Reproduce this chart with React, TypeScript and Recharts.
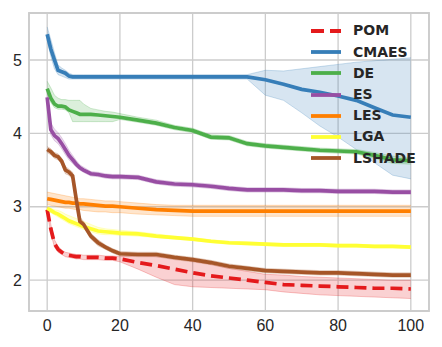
import React from "react";
import {
  ComposedChart,
  Area,
  Line,
  XAxis,
  YAxis,
  CartesianGrid,
  Legend,
  ReferenceArea,
} from "recharts";

// iteration index
const xs = [0, 1, 2, 3, 4, 5, 6, 7, 8, 9, 10, 12, 14, 16, 18, 20, 25, 30, 35, 40, 45, 50, 55, 60, 65, 70, 75, 80, 85, 90, 95, 100];

const pomMean = [2.96, 2.7, 2.5, 2.42, 2.38, 2.35, 2.34, 2.33, 2.32, 2.32, 2.31, 2.31, 2.31, 2.3, 2.3, 2.29, 2.24, 2.2, 2.15, 2.1, 2.06, 2.03, 2.0, 1.97, 1.94, 1.93, 1.92, 1.91, 1.9, 1.89, 1.89, 1.88];
const pomHi = [3.0, 2.76, 2.55, 2.46, 2.41, 2.38, 2.37, 2.36, 2.35, 2.35, 2.34, 2.34, 2.34, 2.33, 2.33, 2.32, 2.34, 2.32, 2.3, 2.26, 2.22, 2.16, 2.12, 2.08, 2.07, 2.05, 2.04, 2.03, 2.02, 2.01, 2.0, 2.0];
const pomLo = [2.92, 2.64, 2.45, 2.38, 2.35, 2.32, 2.31, 2.3, 2.29, 2.29, 2.28, 2.28, 2.28, 2.27, 2.27, 2.25, 2.15, 2.04, 1.94, 1.91, 1.9, 1.89, 1.88, 1.87, 1.84, 1.82, 1.8, 1.79, 1.78, 1.77, 1.76, 1.75];

const cmaesMean = [5.35, 5.15, 5.0, 4.86, 4.84, 4.82, 4.78, 4.77, 4.77, 4.77, 4.77, 4.77, 4.77, 4.77, 4.77, 4.77, 4.77, 4.77, 4.77, 4.77, 4.77, 4.77, 4.77, 4.73, 4.67, 4.6, 4.56, 4.51, 4.45, 4.35, 4.25, 4.22];
const cmaesHi = [5.45, 5.28, 5.1, 4.93, 4.89, 4.86, 4.82, 4.8, 4.8, 4.8, 4.8, 4.8, 4.8, 4.8, 4.8, 4.8, 4.8, 4.8, 4.8, 4.8, 4.8, 4.8, 4.8, 4.86, 4.85, 4.88, 4.91, 4.94, 4.97, 4.99, 5.01, 5.03];
const cmaesLo = [5.27, 5.05, 4.88, 4.8, 4.78, 4.76, 4.74, 4.74, 4.74, 4.74, 4.74, 4.74, 4.74, 4.74, 4.74, 4.74, 4.74, 4.74, 4.74, 4.74, 4.74, 4.74, 4.74, 4.52, 4.45, 4.28, 4.1, 3.95, 3.78, 3.6, 3.43, 3.38];

const deMean = [4.61, 4.48, 4.4, 4.37, 4.37, 4.36, 4.32, 4.3, 4.28, 4.26, 4.26, 4.26, 4.25, 4.24, 4.23, 4.22, 4.18, 4.14, 4.08, 4.04, 3.95, 3.94, 3.86, 3.83, 3.81, 3.79, 3.77, 3.76, 3.75, 3.7, 3.64, 3.63];
const deHi = [4.71, 4.62, 4.52, 4.48, 4.46, 4.46, 4.45, 4.45, 4.45, 4.45, 4.4, 4.34, 4.32, 4.3, 4.29, 4.27, 4.22, 4.18, 4.11, 4.07, 3.98, 3.97, 3.89, 3.86, 3.84, 3.82, 3.8, 3.79, 3.78, 3.74, 3.69, 3.67];
const deLo = [4.55, 4.42, 4.35, 4.33, 4.33, 4.32, 4.28, 4.16, 4.16, 4.16, 4.16, 4.16, 4.16, 4.16, 4.16, 4.19, 4.15, 4.11, 4.05, 4.01, 3.92, 3.91, 3.83, 3.8, 3.78, 3.76, 3.74, 3.73, 3.72, 3.66, 3.59, 3.58];

const esMean = [4.49, 4.05, 3.97, 3.93, 3.86, 3.78, 3.7, 3.64, 3.58, 3.53, 3.5, 3.45, 3.44, 3.42, 3.41, 3.41, 3.4, 3.34, 3.31, 3.3, 3.28, 3.25, 3.23, 3.23, 3.23, 3.22, 3.22, 3.21, 3.21, 3.21, 3.2, 3.2];
const esHi = [4.56, 4.14, 4.06, 4.01, 3.94, 3.86, 3.77, 3.7, 3.63, 3.57, 3.54, 3.48, 3.47, 3.45, 3.44, 3.44, 3.43, 3.37, 3.34, 3.33, 3.31, 3.28, 3.26, 3.26, 3.26, 3.25, 3.25, 3.24, 3.24, 3.24, 3.23, 3.23];
const esLo = [4.43, 3.98, 3.9, 3.86, 3.79, 3.71, 3.64, 3.59, 3.54, 3.5, 3.47, 3.42, 3.41, 3.39, 3.38, 3.38, 3.37, 3.31, 3.28, 3.27, 3.25, 3.22, 3.2, 3.2, 3.2, 3.19, 3.19, 3.18, 3.18, 3.18, 3.17, 3.17];

const lesMean = [3.11, 3.1, 3.09, 3.08, 3.07, 3.06, 3.06, 3.05, 3.05, 3.04, 3.04, 3.03, 3.02, 3.01, 3.01, 3.0, 2.98, 2.96, 2.95, 2.94, 2.94, 2.94, 2.94, 2.94, 2.94, 2.94, 2.94, 2.94, 2.94, 2.94, 2.94, 2.94];
const lesHi = [3.2, 3.19, 3.18, 3.17, 3.16, 3.15, 3.14, 3.13, 3.12, 3.11, 3.11, 3.1, 3.09, 3.08, 3.08, 3.07, 3.05, 3.03, 3.02, 3.02, 3.02, 3.02, 3.02, 3.02, 3.02, 3.02, 3.02, 3.02, 3.02, 3.02, 3.02, 3.02];
const lesLo = [3.03, 3.02, 3.01, 3.0, 2.99, 2.98, 2.98, 2.97, 2.96, 2.96, 2.95, 2.94, 2.93, 2.93, 2.92, 2.92, 2.9, 2.89, 2.88, 2.87, 2.87, 2.87, 2.87, 2.87, 2.87, 2.87, 2.87, 2.87, 2.87, 2.87, 2.87, 2.87];

const lgaMean = [2.98, 2.95, 2.92, 2.9, 2.87, 2.84, 2.81, 2.79, 2.77, 2.75, 2.73, 2.7, 2.67, 2.66, 2.65, 2.64, 2.63, 2.6, 2.58, 2.56, 2.53, 2.51, 2.5, 2.49, 2.48, 2.48, 2.48, 2.47, 2.47, 2.46, 2.46, 2.45];
const lgaHi = [3.0, 2.98, 2.96, 2.95, 2.93, 2.9, 2.88, 2.86, 2.84, 2.82, 2.8, 2.76, 2.72, 2.7, 2.69, 2.68, 2.66, 2.63, 2.6, 2.58, 2.55, 2.53, 2.52, 2.51, 2.5, 2.5, 2.5, 2.49, 2.49, 2.48, 2.48, 2.47];
const lgaLo = [2.96, 2.92, 2.89, 2.86, 2.83, 2.8, 2.77, 2.75, 2.73, 2.71, 2.69, 2.66, 2.63, 2.62, 2.62, 2.61, 2.6, 2.58, 2.56, 2.54, 2.51, 2.49, 2.48, 2.47, 2.46, 2.46, 2.46, 2.45, 2.45, 2.44, 2.44, 2.43];

const lshadeMean = [3.78, 3.75, 3.7, 3.68, 3.62, 3.5, 3.47, 3.42, 3.1, 2.8, 2.76, 2.6, 2.51, 2.45, 2.4, 2.36, 2.35, 2.35, 2.31, 2.28, 2.24, 2.19, 2.16, 2.13, 2.12, 2.11, 2.1, 2.1, 2.09, 2.08, 2.07, 2.07];
const lshadeHi = [3.82, 3.79, 3.74, 3.72, 3.66, 3.55, 3.51, 3.47, 3.2, 2.86, 2.8, 2.64, 2.55, 2.48, 2.43, 2.39, 2.38, 2.38, 2.34, 2.31, 2.27, 2.22, 2.19, 2.16, 2.15, 2.14, 2.13, 2.13, 2.12, 2.11, 2.1, 2.1];
const lshadeLo = [3.74, 3.71, 3.66, 3.64, 3.58, 3.45, 3.43, 3.37, 3.0, 2.75, 2.72, 2.56, 2.47, 2.42, 2.37, 2.33, 2.32, 2.32, 2.28, 2.25, 2.21, 2.16, 2.13, 2.1, 2.09, 2.08, 2.07, 2.07, 2.06, 2.05, 2.04, 2.04];

const xTicks = [0, 20, 40, 60, 80, 100];
const yTicks = [2, 3, 4, 5];

const series = [
  { name: "POM", color: "#e41a1c", mean: pomMean, lo: pomLo, hi: pomHi, dash: "12 6" },
  { name: "CMAES", color: "#377eb8", mean: cmaesMean, lo: cmaesLo, hi: cmaesHi },
  { name: "DE", color: "#4daf4a", mean: deMean, lo: deLo, hi: deHi },
  { name: "ES", color: "#984ea3", mean: esMean, lo: esLo, hi: esHi },
  { name: "LES", color: "#ff7f00", mean: lesMean, lo: lesLo, hi: lesHi },
  { name: "LGA", color: "#ffff33", mean: lgaMean, lo: lgaLo, hi: lgaHi },
  { name: "LSHADE", color: "#a65628", mean: lshadeMean, lo: lshadeLo, hi: lshadeHi },
];

const rows = xs.map((x, i) => {
  const row: Record<string, any> = { x };
  series.forEach((s) => {
    row[s.name] = s.mean[i];
    row[s.name + "_band"] = [s.lo[i], s.hi[i]];
  });
  return row;
});

const FONT = '"Liberation Sans", Arial, sans-serif';
const LEGEND_FONT = '"DejaVu Sans", sans-serif';
const GRID = "#cccccc";

function LegendBox() {
  return (
    <div style={{ fontFamily: LEGEND_FONT }}>
      {series.map((s) => (
        <div
          key={s.name}
          style={{ display: "flex", alignItems: "center", height: 21.2 }}
        >
          <svg width={30} height={6} style={{ marginRight: 12 }}>
            <line
              x1={0}
              y1={3}
              x2={30}
              y2={3}
              stroke={s.color}
              strokeWidth={3.8}
              strokeDasharray={s.dash ? "13 6" : undefined}
            />
          </svg>
          <span
            style={{
              fontSize: 14,
              fontWeight: "bold",
              color: "#262626",
              lineHeight: "15px",
            }}
          >
            {s.name}
          </span>
        </div>
      ))}
    </div>
  );
}

export default function App() {
  return (
    <div style={{ position: "absolute", left: 0, top: 0, background: "#fff" }}>
      <ComposedChart
        width={442}
        height={347}
        data={rows}
        margin={{ top: 13, right: 13, bottom: 6, left: 0 }}
      >
        <CartesianGrid stroke={GRID} strokeWidth={1.3} />
        <XAxis
          dataKey="x"
          type="number"
          domain={[-5, 105]}
          ticks={xTicks}
          height={30}
          tickLine={false}
          tickSize={0}
          tickMargin={9}
          axisLine={false}
          tick={{ fill: "#262626", fontSize: 16, fontFamily: FONT }}
        />
        <YAxis
          type="number"
          domain={[1.58, 5.64]}
          ticks={yTicks}
          width={29}
          allowDataOverflow
          tickLine={false}
          tickSize={0}
          tickMargin={7}
          axisLine={false}
          tick={{ fill: "#262626", fontSize: 16, fontFamily: FONT }}
        />
        <ReferenceArea
          x1={-5}
          x2={105}
          y1={1.58}
          y2={5.64}
          fill="none"
          stroke={GRID}
          strokeWidth={1.8}
        />
        {series.map((s) => (
          <Area
            key={s.name + "_band"}
            dataKey={s.name + "_band"}
            type="linear"
            fill={s.color}
            fillOpacity={0.2}
            stroke={s.color}
            strokeOpacity={0.25}
            strokeWidth={1}
            isAnimationActive={false}
            legendType="none"
            activeDot={false}
          />
        ))}
        {series.map((s) => (
          <Line
            key={s.name}
            dataKey={s.name}
            type="linear"
            stroke={s.color}
            strokeWidth={3.7}
            strokeDasharray={s.dash}
            dot={false}
            activeDot={false}
            isAnimationActive={false}
          />
        ))}
        <Legend
          layout="vertical"
          align="center"
          verticalAlign="middle"
          content={() => <LegendBox />}
          wrapperStyle={{ position: "absolute", top: 20.4, left: 311, width: 120 }}
        />
      </ComposedChart>
    </div>
  );
}
